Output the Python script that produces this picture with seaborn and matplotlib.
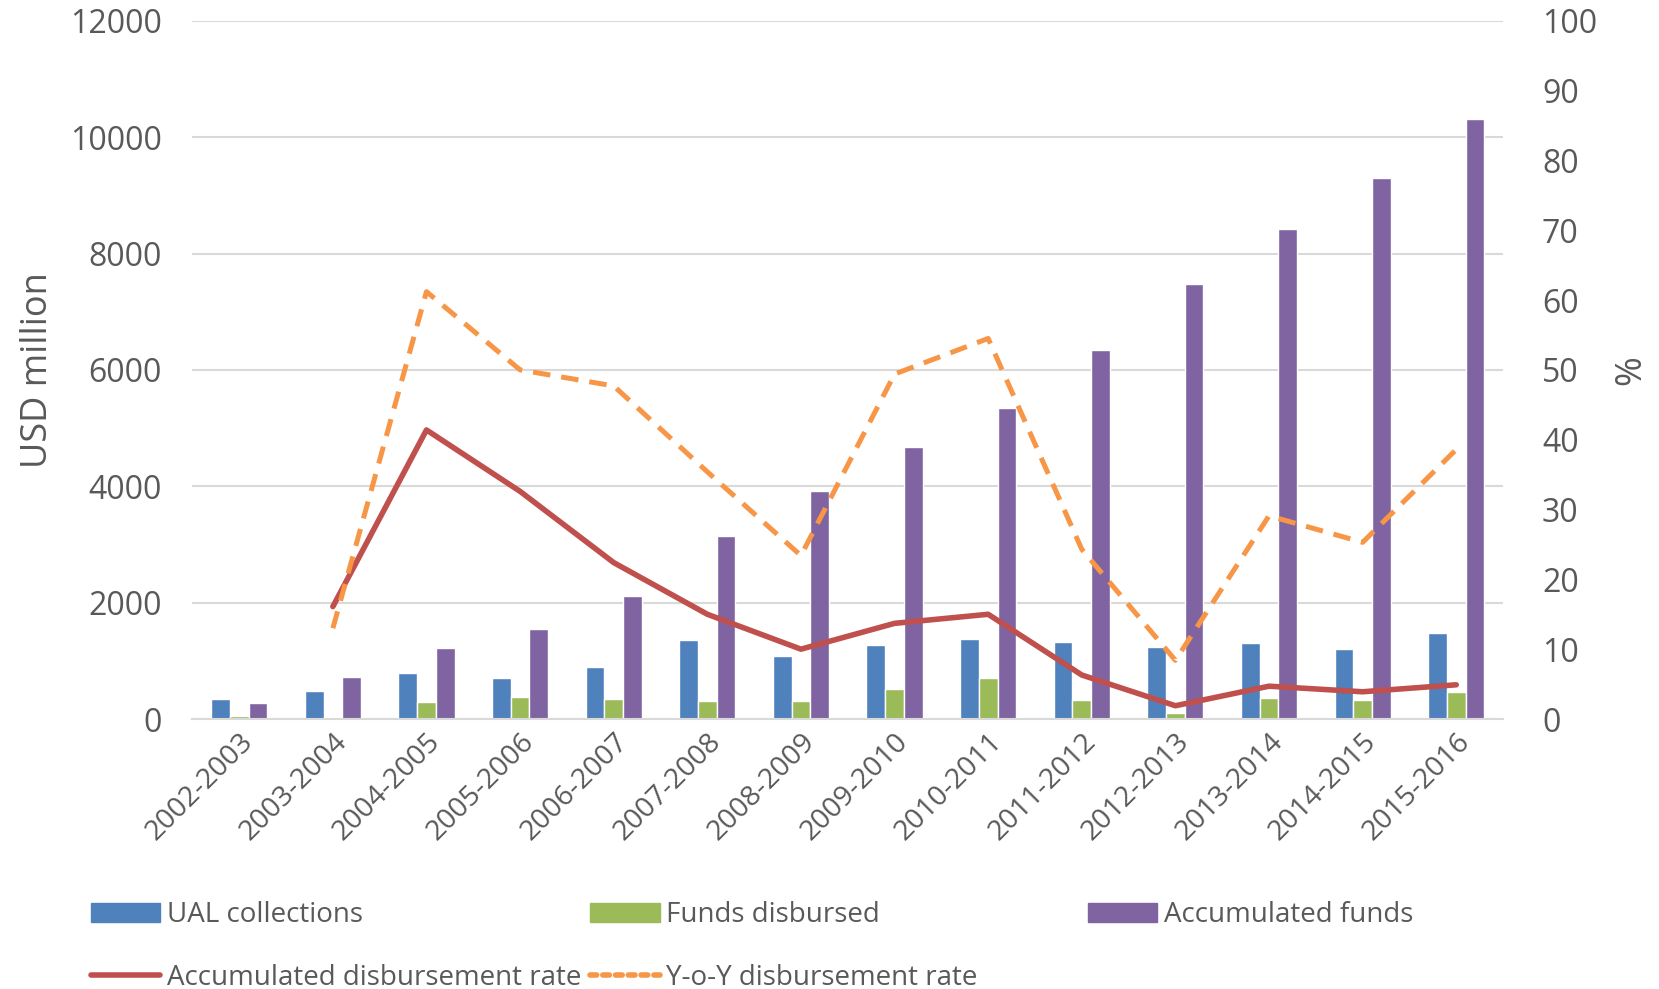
import numpy as np
import pandas as pd
import matplotlib
matplotlib.use("Agg")
import matplotlib.pyplot as plt
from matplotlib.patches import Patch
from matplotlib.lines import Line2D
import seaborn as sns

sns.set_theme(style="white")
plt.rcParams["font.family"] = ["Open Sans", "DejaVu Sans"]

years = ["2002-2003", "2003-2004", "2004-2005", "2005-2006", "2006-2007",
         "2007-2008", "2008-2009", "2009-2010", "2010-2011", "2011-2012",
         "2012-2013", "2013-2014", "2014-2015", "2015-2016"]
ual_collections = [346, 478, 783, 708, 893, 1354, 1077, 1273, 1371, 1325, 1233, 1307, 1198, 1480]
funds_disbursed = [46, 35, 294, 386, 340, 305, 305, 524, 697, 328, 109, 357, 328, 461]
accumulated_funds = [276, 726, 1215, 1555, 2108, 3145, 3927, 4673, 5345, 6345, 7473, 8418, 9290, 10309]
acc_rate = [np.nan, 16.1, 41.4, 32.6, 22.4, 15.0, 10.0, 13.7, 15.0, 6.3, 1.9, 4.7, 3.9, 4.9]
yoy_rate = [np.nan, 13.0, 61.2, 50.0, 47.7, 35.4, 23.4, 49.4, 54.5, 24.3, 8.4, 29.1, 25.3, 38.6]

bar_names = ["UAL collections", "Funds disbursed", "Accumulated funds"]
bar_colors = ["#4F81BD", "#9BBB59", "#8064A2"]
red, orange = "#C0504D", "#F79646"
txt = "#595959"
grid = "#D9D9D9"

bars = pd.DataFrame({"year": years,
                     bar_names[0]: ual_collections,
                     bar_names[1]: funds_disbursed,
                     bar_names[2]: accumulated_funds})
long = bars.melt(id_vars="year", var_name="series", value_name="value")

fig = plt.figure(figsize=(16.59, 9.89), dpi=100)
ax = fig.add_axes([0.116, 0.273, 0.79, 0.706])

sns.barplot(data=long, x="year", y="value", hue="series", palette=bar_colors,
            width=0.6, saturation=1, legend=False, ax=ax)
ax.set_ylim(0, 12000)
ax.set_yticks(range(0, 12001, 2000))
ax.set_xlim(-0.5, len(years) - 0.5)
ax.yaxis.grid(True, color=grid, lw=1.5)
ax.set_axisbelow(True)
for s in ["top", "right", "left"]:
    ax.spines[s].set_visible(False)
ax.spines["bottom"].set_color(grid)
ax.spines["bottom"].set_linewidth(1.5)
ax.set_xlabel("")
ax.set_ylabel("USD million", fontsize=26, color=txt, labelpad=10)
ax.tick_params(axis="y", length=0, pad=22, labelsize=23, labelcolor=txt)
ax.tick_params(axis="x", length=0, pad=6, labelsize=20.5, labelcolor=txt)
for lab in ax.get_xticklabels():
    lab.set_rotation(45)
    lab.set_ha("right")
    lab.set_va("top")
    lab.set_rotation_mode("anchor")

ax2 = ax.twinx()
xs = np.arange(len(years))
sns.lineplot(x=xs, y=acc_rate, color=red, lw=4.0, ax=ax2)
sns.lineplot(x=xs, y=yoy_rate, color=orange, lw=3.6, ax=ax2)
ax2.lines[1].set_linestyle((0, (3.5, 2.2)))
ax2.set_ylim(0, 100)
ax2.set_yticks(range(0, 101, 10))
ax2.set_xlim(-0.5, len(years) - 0.5)
for s in ax2.spines.values():
    s.set_visible(False)
ax2.tick_params(axis="y", length=0, pad=28, labelsize=23, labelcolor=txt)
ax2.set_ylabel("%", fontsize=26, color=txt, labelpad=12)
ax2.grid(False)

# legend, laid out in columns like the original
leg_kw = dict(frameon=False, fontsize=20, labelcolor=txt, handlelength=2.5,
              handleheight=0.65, handletextpad=0.25, labelspacing=1.25,
              borderaxespad=0, loc="upper left")
col1 = [Patch(color=bar_colors[0]), Line2D([], [], color=red, lw=4.0)]
col2 = [Patch(color=bar_colors[1]),
        Line2D([], [], color=orange, lw=4.0, ls=(0, (1.2, 1.1)), dash_capstyle="round")]
col3 = [Patch(color=bar_colors[2])]
fig.legend(col1, ["UAL collections", "Accumulated disbursement rate"],
           bbox_to_anchor=(0.048, 0.1), **leg_kw)
fig.legend(col2, ["Funds disbursed", "Y-o-Y disbursement rate"],
           bbox_to_anchor=(0.349, 0.1), **leg_kw)
fig.legend(col3, ["Accumulated funds"], bbox_to_anchor=(0.649, 0.1), **leg_kw)

fig.savefig("out.png", dpi=100)
